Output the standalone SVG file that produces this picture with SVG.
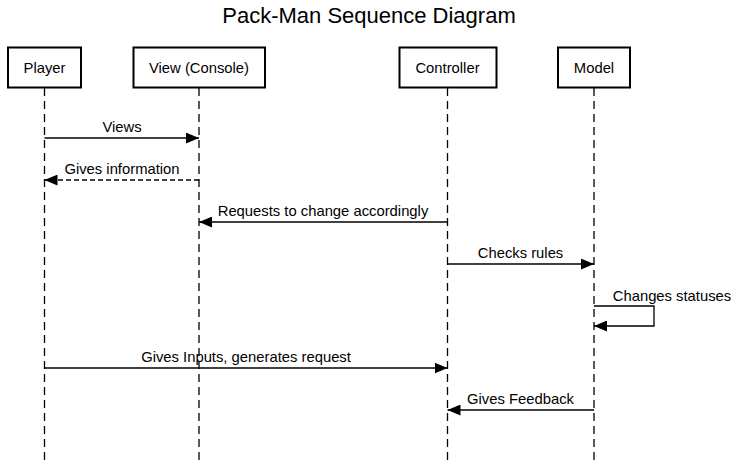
<svg xmlns="http://www.w3.org/2000/svg" width="738" height="463" viewBox="0 0 738 463">
<style>
text{font-family:"Liberation Sans",Arial,sans-serif;fill:#000}
.actor rect{fill:#fff;stroke:#000;stroke-width:2}
.actor text{font-size:14.8px;text-anchor:middle;dominant-baseline:central}
.life{stroke:#000;stroke-width:1.3;stroke-dasharray:8,5;fill:none}
.msg{stroke:#000;stroke-width:1.3;fill:none}
.dash{stroke-dasharray:5,3}
.lbl{font-size:14.8px;text-anchor:middle}
</style>
<defs>
<marker id="ah" viewBox="0 0 12 10" refX="12" refY="5" markerWidth="13" markerHeight="11" markerUnits="userSpaceOnUse" orient="auto">
<path d="M0,0 L12,5 L0,10 z" fill="#000"/>
</marker>
</defs>
<rect width="738" height="463" fill="#fff"/>
<text x="369" y="23" font-size="22" text-anchor="middle">Pack-Man Sequence Diagram</text>
<g id="lifelines">
<line class="life" x1="44.5" y1="88" x2="44.5" y2="463"/>
<line class="life" x1="199" y1="88" x2="199" y2="463"/>
<line class="life" x1="447.5" y1="88" x2="447.5" y2="463"/>
<line class="life" x1="594" y1="88" x2="594" y2="463"/>
</g>
<g id="player" class="actor"><rect x="8" y="47.5" width="73" height="40"/><text x="44.5" y="68">Player</text></g>
<g id="view" class="actor"><rect x="133.5" y="47.5" width="131.5" height="40"/><text x="199" y="68">View (Console)</text></g>
<g id="controller" class="actor"><rect x="399.5" y="47.5" width="97" height="40"/><text x="447.5" y="68">Controller</text></g>
<g id="model" class="actor"><rect x="558" y="47.5" width="72" height="40"/><text x="594" y="68">Model</text></g>
<g id="connectors">
<line class="msg" x1="44.5" y1="138" x2="199" y2="138" marker-end="url(#ah)"/>
<text class="lbl" x="122" y="132">Views</text>
<line class="msg dash" x1="199" y1="180" x2="44.5" y2="180" marker-end="url(#ah)"/>
<text class="lbl" x="122" y="174">Gives information</text>
<line class="msg" x1="447.5" y1="222" x2="199" y2="222" marker-end="url(#ah)"/>
<text class="lbl" x="323" y="216">Requests to change accordingly</text>
<line class="msg" x1="447.5" y1="264" x2="594" y2="264" marker-end="url(#ah)"/>
<text class="lbl" x="520.5" y="258">Checks rules</text>
<path class="msg" d="M594,306 H654 V326 H594" marker-end="url(#ah)"/>
<text class="lbl" x="672" y="301">Changes statuses</text>
<line class="msg" x1="44.5" y1="368" x2="447.5" y2="368" marker-end="url(#ah)"/>
<text class="lbl" x="246" y="362">Gives Inputs, generates request</text>
<line class="msg" x1="594" y1="410" x2="447.5" y2="410" marker-end="url(#ah)"/>
<text class="lbl" x="520.5" y="404">Gives Feedback</text>
</g>
</svg>
